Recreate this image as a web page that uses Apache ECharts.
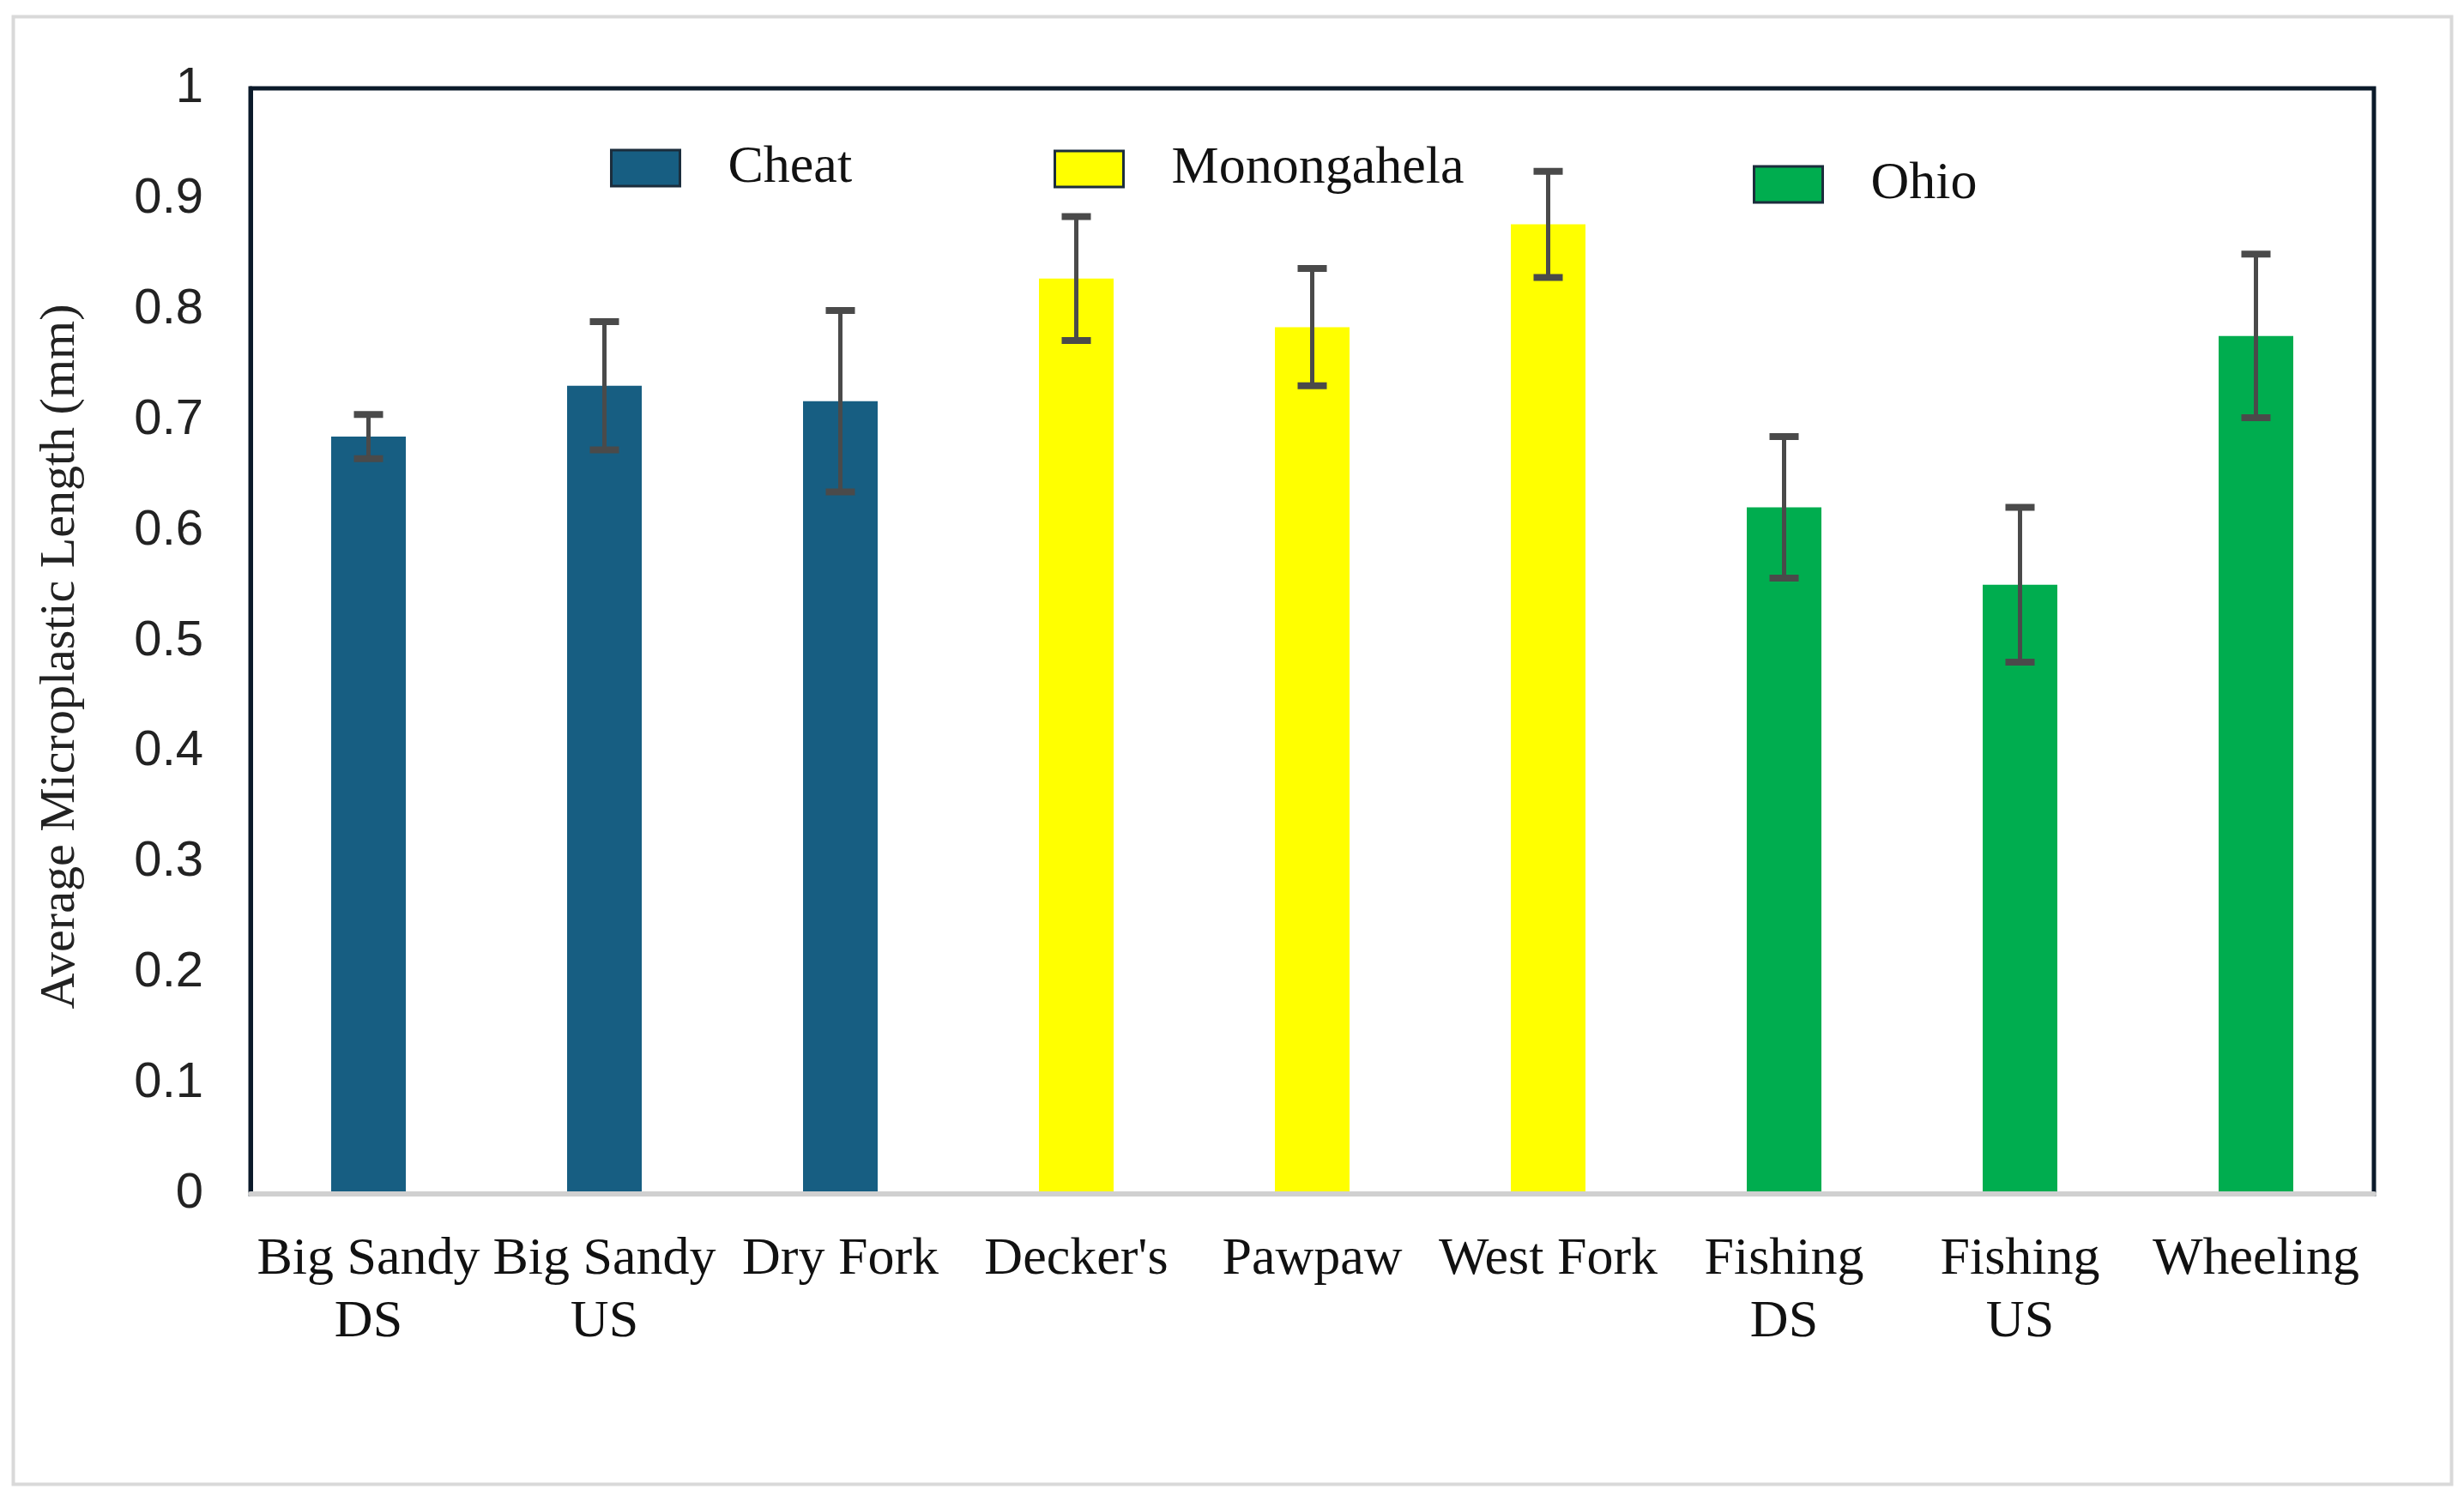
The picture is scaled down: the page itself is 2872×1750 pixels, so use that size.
<!DOCTYPE html>
<html>
<head>
<meta charset="utf-8">
<script src="https://cdn.jsdelivr.net/npm/echarts@6/dist/echarts.min.js"></script>
<style>
html,body{margin:0;padding:0;background:#fff;}
#chart{width:2872px;height:1750px;}
</style>
</head>
<body>
<div id="chart"></div>
<script>
var categories = ['Big Sandy\nDS', 'Big Sandy\nUS', 'Dry Fork', "Decker's", 'Pawpaw', 'West Fork', 'Fishing\nDS', 'Fishing\nUS', 'Wheeling'];
var cheatValues = [0.685, 0.731, 0.717, null, null, null, null, null, null];
var monongahelaValues = [null, null, null, 0.828, 0.784, 0.877, null, null, null];
var ohioValues = [null, null, null, null, null, null, 0.621, 0.551, 0.776];
var errorValues = [0.020, 0.058, 0.082, 0.056, 0.053, 0.048, 0.064, 0.070, 0.074];
var yTicks = [0, 0.1, 0.2, 0.3, 0.4, 0.5, 0.6, 0.7, 0.8, 0.9, 1];

var means = categories.map(function (c, i) {
  return cheatValues[i] != null ? cheatValues[i] : (monongahelaValues[i] != null ? monongahelaValues[i] : ohioValues[i]);
});
var errorData = categories.map(function (c, i) {
  return [i, means[i] - errorValues[i], means[i] + errorValues[i]];
});

var chart = echarts.init(document.getElementById('chart'));
var serif = '"Liberation Serif", "DejaVu Serif", serif';
var legendBase = {
  orient: 'horizontal', padding: 0, itemWidth: 80, itemHeight: 42,
  icon: 'rect',
  itemStyle: { borderColor: '#1b2d3c', borderWidth: 3 },
  textStyle: { fontFamily: serif, fontSize: 62, color: '#111', lineHeight: 42, padding: [0, 0, 0, 51] },
  selectedMode: false
};
function mkLegend(name, left, top) {
  var l = JSON.parse(JSON.stringify(legendBase));
  l.data = [name]; l.left = left; l.top = top;
  return l;
}
chart.setOption({
  backgroundColor: '#fff',
  animation: false,
  graphic: [{
    type: 'rect', left: 13, top: 17, z: -10,
    shape: { width: 2842, height: 1711 },
    style: { fill: 'none', stroke: '#d9d9d9', lineWidth: 4 }
  }],
  legend: [
    mkLegend('Cheat', 711, 165),
    mkLegend('Monongahela', 1228, 166),
    mkLegend('Ohio', 2043, 184)
  ],
  grid: {
    left: 292, right: 105, top: 103, bottom: 358,
    show: true, borderColor: '#0b1a2a', borderWidth: 5, backgroundColor: 'transparent'
  },
  xAxis: {
    type: 'category', data: categories,
    axisLine: { show: true, lineStyle: { color: '#d0d0d0', width: 6 } },
    axisTick: { show: false },
    z: 5,
    axisLabel: { fontFamily: serif, fontSize: 62, color: '#111', lineHeight: 73, margin: 40, interval: 0 }
  },
  yAxis: {
    type: 'value', min: 0, max: 1, interval: 0.1,
    axisLine: { show: true, lineStyle: { color: '#0b1a2a', width: 5 } },
    axisTick: { show: false },
    splitLine: { show: false },
    axisLabel: {
      fontFamily: '"Liberation Sans", Arial, sans-serif', fontSize: 58, color: '#222', margin: 55,
      formatter: function (v) { return String(Math.round(v * 10) / 10); }
    },
    name: 'Average Microplastic Length (mm)',
    nameLocation: 'middle', nameGap: 192, nameRotate: 90,
    nameTextStyle: { fontFamily: serif, fontSize: 58, color: '#222', padding: [0, 36, 0, 0] }
  },
  series: [
    { name: 'Cheat', type: 'bar', data: cheatValues, barWidth: 87, barGap: '-100%', itemStyle: { color: '#175e82' } },
    { name: 'Monongahela', type: 'bar', data: monongahelaValues, barWidth: 87, barGap: '-100%', itemStyle: { color: '#ffff00' } },
    { name: 'Ohio', type: 'bar', data: ohioValues, barWidth: 87, barGap: '-100%', itemStyle: { color: '#00ad4f' } },
    {
      name: 'error', type: 'custom', data: errorData, z: 10,
      renderItem: function (params, api) {
        var x = api.value(0);
        var lo = api.coord([x, api.value(1)]);
        var hi = api.coord([x, api.value(2)]);
        var hw = 17;
        var st = { stroke: '#4a4a4a', lineWidth: 5 };
        var cap = { stroke: '#4a4a4a', lineWidth: 8 };
        return {
          type: 'group',
          children: [
            { type: 'line', shape: { x1: lo[0], y1: lo[1], x2: hi[0], y2: hi[1] }, style: st },
            { type: 'line', shape: { x1: hi[0] - hw, y1: hi[1], x2: hi[0] + hw, y2: hi[1] }, style: cap },
            { type: 'line', shape: { x1: lo[0] - hw, y1: lo[1], x2: lo[0] + hw, y2: lo[1] }, style: cap }
          ]
        };
      }
    }
  ]
});
</script>
</body>
</html>
